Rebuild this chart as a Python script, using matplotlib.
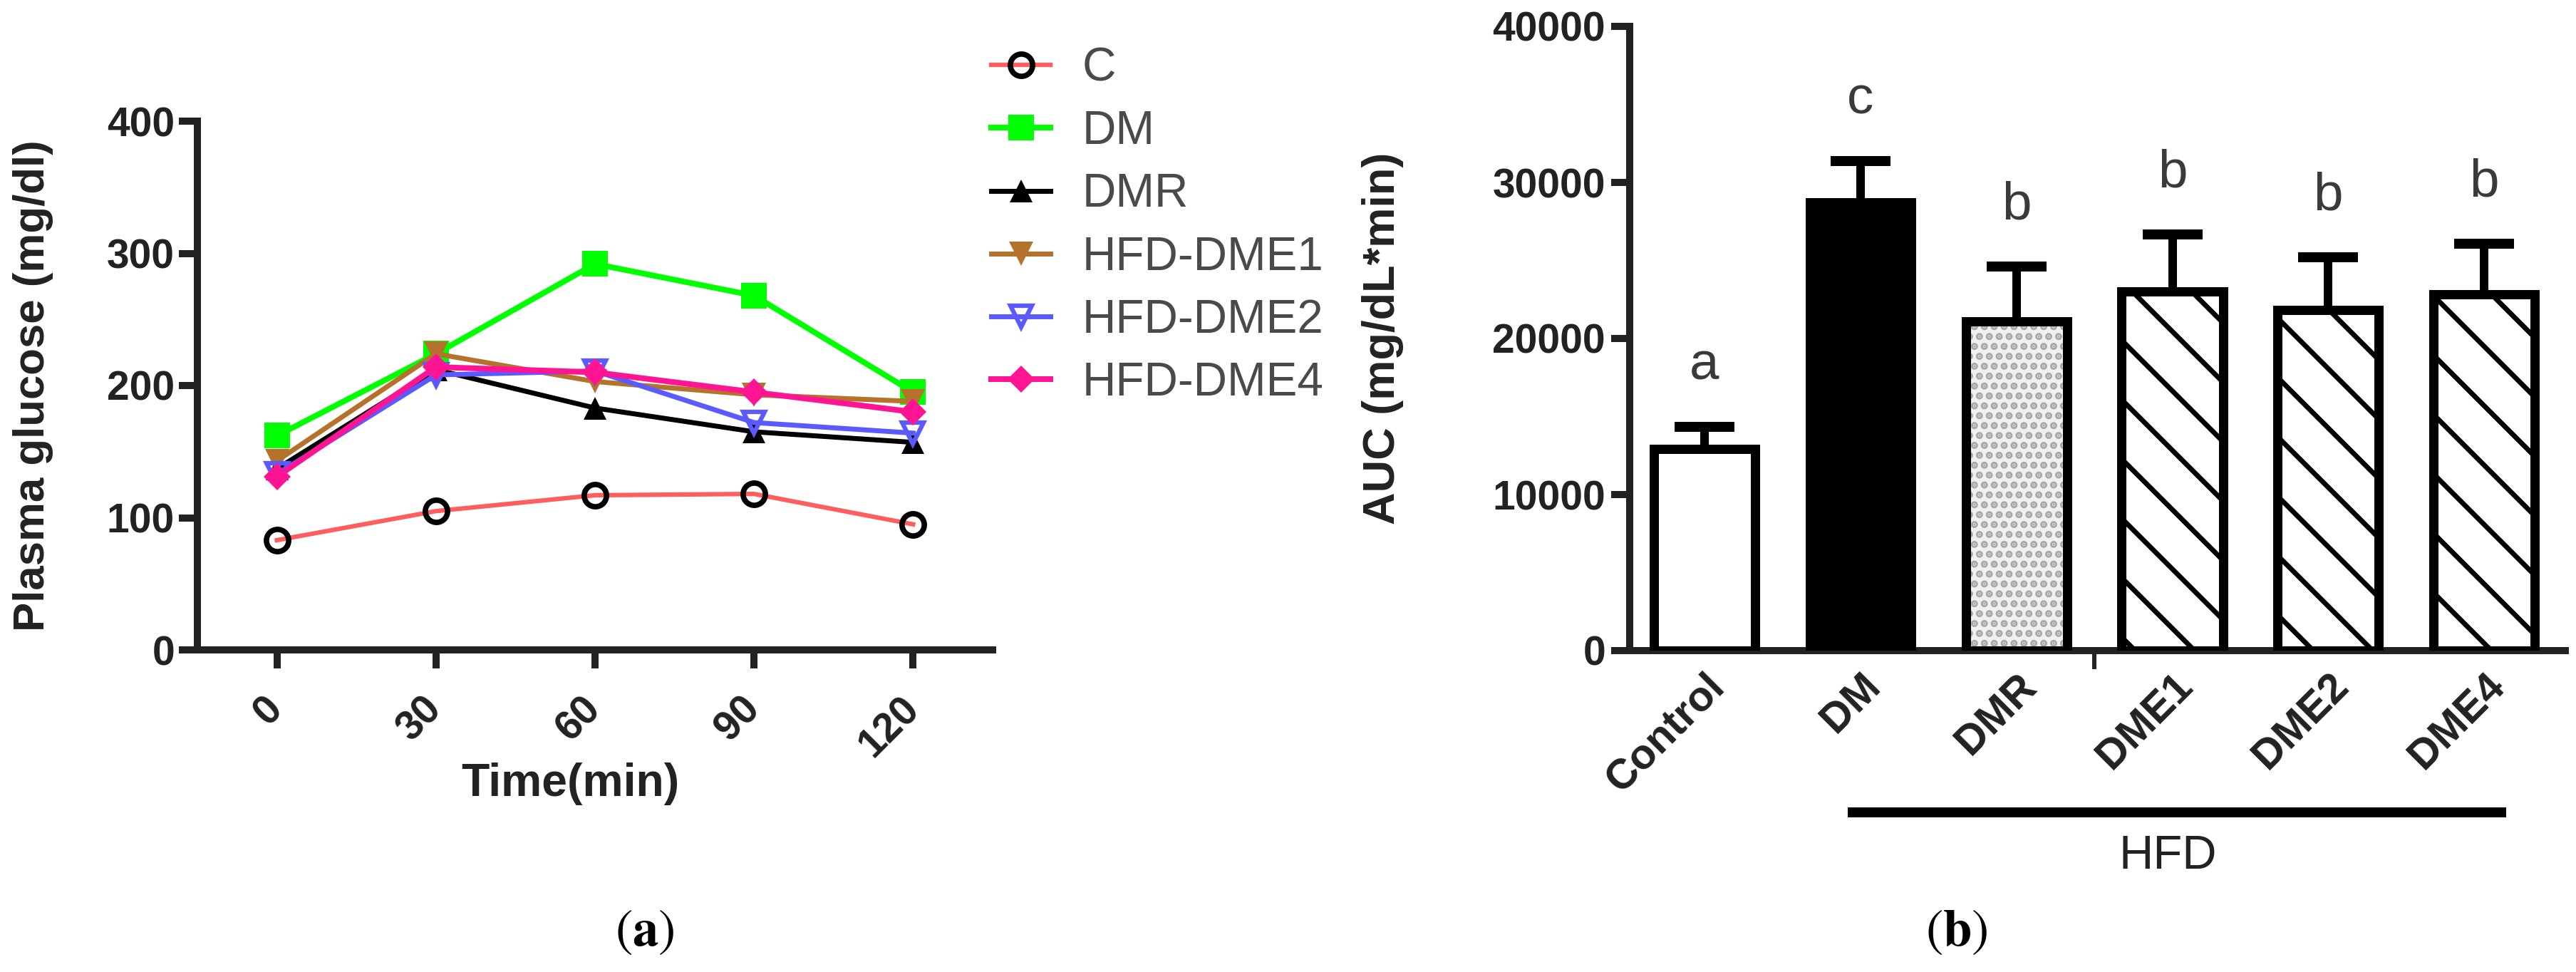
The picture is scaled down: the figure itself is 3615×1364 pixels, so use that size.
import matplotlib
matplotlib.use("Agg")
import matplotlib.pyplot as plt
import matplotlib.transforms as mtransforms
import numpy as np

DPI = 250
W, H = 3615, 1364


def pt(px):
    # pixel size in the output -> points
    return px * 72.0 / DPI


# ---- data: (a) glucose tolerance curves ----
time_min = [0, 30, 60, 90, 120]
glu_C = [83, 105, 117, 118, 95]
glu_DM = [162, 224, 292, 268, 195]
glu_DMR = [137, 212, 183, 165, 157]
glu_DME1 = [143, 224, 203, 193, 188]
glu_DME2 = [133, 208, 211, 172, 164]
glu_DME4 = [131, 214, 210, 195, 180]
series_names = ["C", "DM", "DMR", "HFD-DME1", "HFD-DME2", "HFD-DME4"]

# ---- data: (b) AUC bars ----
groups = ["Control", "DM", "DMR", "DME1", "DME2", "DME4"]
auc_mean = [12900, 28700, 21100, 23030, 21840, 22850]
auc_err = [1460, 2670, 3520, 3650, 3380, 3230]
auc_letters = ["a", "c", "b", "b", "b", "b"]

plt.rcParams["font.family"] = ["Liberation Sans", "DejaVu Sans"]
plt.rcParams["mathtext.fontset"] = "stix"
plt.rcParams["hatch.linewidth"] = pt(7)

fig = plt.figure(figsize=(W / DPI, H / DPI), dpi=DPI)
fig.patch.set_facecolor("white")

axc = "#222222"
lw_axis = pt(10)


def axes_px(x0, x1, ytop, ybot):
    return fig.add_axes([x0 / W, 1 - ybot / H, (x1 - x0) / W, (ybot - ytop) / H])


def style_axes(ax):
    for s in ["top", "right"]:
        ax.spines[s].set_visible(False)
    for s in ["left", "bottom"]:
        ax.spines[s].set_linewidth(lw_axis)
        ax.spines[s].set_color(axc)
    ax.tick_params(which="major", direction="out", length=pt(26), width=lw_axis,
                   color=axc, labelcolor=axc, labelsize=16.4)


# ================= panel (a) =================
ax1 = axes_px(277, 1393, 170, 912)
style_axes(ax1)

styles = [
    dict(color="#FF5E5E", lw=1.8, marker="o", ms=9.0, mfc="none", mec="black", mew=2.2),
    dict(color="#00FF00", lw=2.3, marker="s", ms=10.5, mfc="#00FF00", mec="#00FF00", mew=0),
    dict(color="black", lw=2.0, marker="^", ms=9.5, mfc="black", mec="black", mew=0),
    dict(color="#B5722A", lw=2.0, marker="v", ms=10.0, mfc="#B5722A", mec="#B5722A", mew=0),
    dict(color="#5A5AFF", lw=2.0, marker="v", ms=8.8, mfc="none", mec="#5A5AFF", mew=1.8),
    dict(color="#FF1493", lw=2.3, marker="D", ms=7.6, mfc="#FF1493", mec="#FF1493", mew=0),
]
all_series = [glu_C, glu_DM, glu_DMR, glu_DME1, glu_DME2, glu_DME4]
for name, vals, st in zip(series_names, all_series, styles):
    ax1.plot(time_min, vals, label=name, clip_on=False, **st)

ax1.set_xlim(-15, 135)
ax1.set_ylim(0, 400)
ax1.set_yticks([0, 100, 200, 300, 400])
ax1.set_xticks(time_min)
ax1.set_xticklabels([str(v) for v in time_min], rotation=45, ha="right",
                    va="center", rotation_mode="anchor")
ax1.tick_params(axis="x", pad=14)
ax1.tick_params(axis="y", pad=pt(6))
for lab in ax1.get_xticklabels() + ax1.get_yticklabels():
    lab.set_fontweight("bold")

ax1.set_ylabel("Plasma glucose (mg/dl)", fontsize=17.8, fontweight="bold",
               color=axc, va="center")
ax1.yaxis.set_label_coords((47 - 277) / (1393 - 277), 0.5)
ax1.set_xlabel("Time(min)", fontsize=18.5, fontweight="bold", color=axc, va="center")
ax1.xaxis.set_label_coords((800 - 277) / (1393 - 277), (912 - 1100) / (912 - 170))

ax1.legend(loc="upper left", bbox_to_anchor=(1391 / W, 1 - 66 / H),
           bbox_transform=fig.transFigure, frameon=False, borderpad=0,
           borderaxespad=0, handlelength=1.27, handletextpad=0.67,
           labelspacing=0.4, fontsize=18.9, labelcolor="#4a4a4a")

# ================= panel (b) =================
ax2 = axes_px(2287, 3600, 37, 913)
style_axes(ax2)
xpos = np.arange(len(groups))
faces = ["white", "black", "none", "white", "white", "white"]
hatches = ["", "", "", "\\", "\\", "\\"]

# light stipple under the DMR bar
ax2.bar(xpos[2], auc_mean[2], width=0.65, color="#f0f0f0", edgecolor="#a8a8a8",
        linewidth=0, hatch="...", zorder=2)
bars = ax2.bar(xpos, auc_mean, width=0.65, color=faces, edgecolor="black",
               linewidth=pt(13), zorder=3)
for b, h in zip(bars, hatches):
    b.set_hatch(h)

eb = ax2.errorbar(xpos, auc_mean, yerr=[np.zeros(len(groups)), auc_err], fmt="none",
                  ecolor="black", elinewidth=pt(12), capsize=12.1, capthick=pt(14),
                  zorder=4)
eb[1][0].set_visible(False)

for x, m, e, let in zip(xpos, auc_mean, auc_err, auc_letters):
    ax2.annotate(let, (x, m + e), xytext=(0, pt(86)), textcoords="offset points",
                 ha="center", va="center", fontsize=21.5, color="#3a3a3a")

ax2.set_xlim(-0.48, 5.52)
ax2.set_ylim(0, 40000)
ax2.set_yticks([0, 10000, 20000, 30000, 40000])
ax2.set_xticks(xpos)
ax2.set_xticklabels(groups, rotation=45, ha="right", va="top", rotation_mode="anchor")
ax2.set_xticks([2.5], minor=True)
ax2.tick_params(axis="x", which="major", length=0, pad=pt(22), labelsize=17)
ax2.tick_params(axis="x", which="minor", length=pt(26), width=pt(6), color=axc)
ax2.tick_params(axis="y", pad=pt(8))
for lab in ax2.get_xticklabels() + ax2.get_yticklabels():
    lab.set_fontweight("bold")

ax2.set_ylabel("AUC (mg/dL*min)", fontsize=18.2, fontweight="bold", color=axc,
               va="center")
ax2.yaxis.set_label_coords((1940 - 2287) / (3600 - 2287), 0.5)

# HFD group bar under the treated groups
blend = mtransforms.blended_transform_factory(ax2.transData, ax2.transAxes)
y_line = (913 - 1140) / (913 - 37)
ax2.plot([xpos[1] - 0.08, xpos[-1] + 0.14], [y_line, y_line], color="black",
         lw=pt(14), transform=blend, clip_on=False, solid_capstyle="butt")
ax2.text((xpos[1] + xpos[-1]) / 2 - 0.03, (913 - 1202) / (913 - 37), "HFD",
         transform=blend, ha="center", va="center", fontsize=19.3, color="#222222")

# panel letters
fig.text(905 / W, 1 - 1308 / H, r"$(\mathbf{a})$", ha="center", va="center",
         fontsize=21, color="black")
fig.text(2746 / W, 1 - 1308 / H, r"$(\mathbf{b})$", ha="center", va="center",
         fontsize=21, color="black")

fig.savefig("out.png", dpi=DPI, facecolor="white")
